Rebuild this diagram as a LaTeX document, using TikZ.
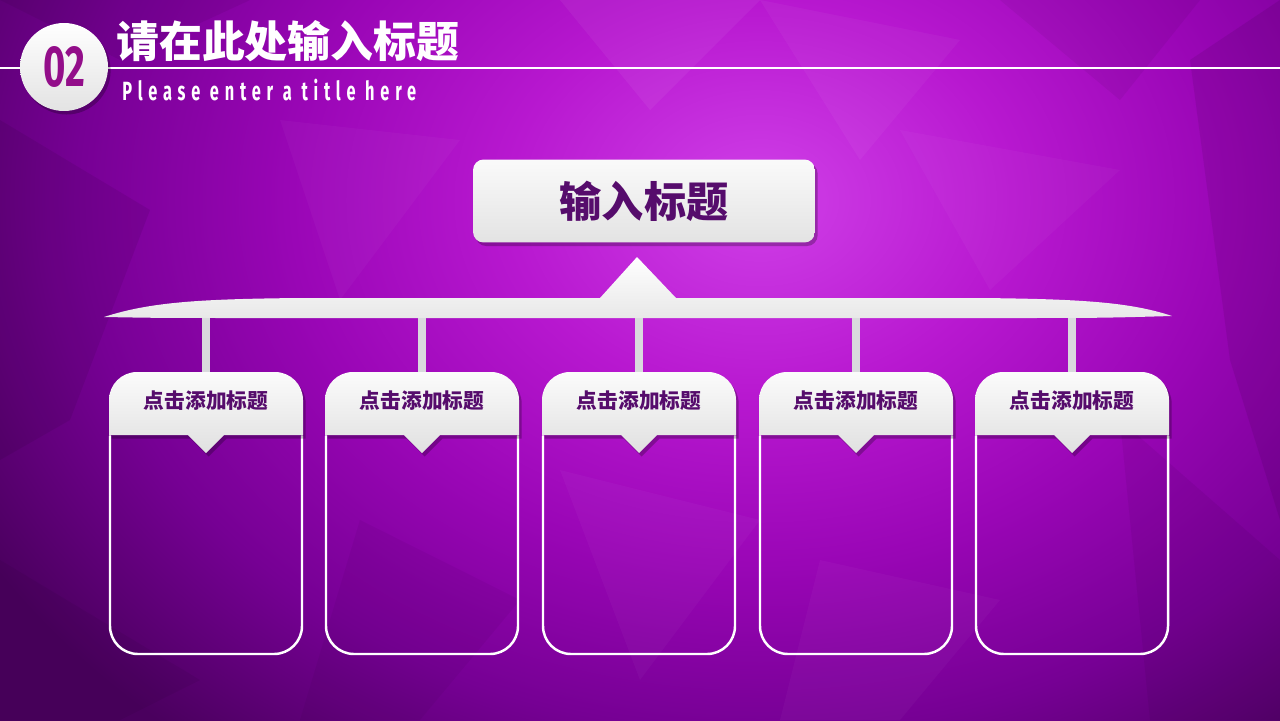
\documentclass[tikz,border=0pt]{standalone}
\usepackage{fontspec}
\usepackage{tikz}
\usetikzlibrary{positioning, shadows}

\newfontfamily\cjk{Noto Sans CJK SC}
\newfontfamily\numfont[FakeStretch=0.66]{Fira Sans}
\newfontfamily\subfont[FakeStretch=0.62, LetterSpace=22]{Fira Sans}

\definecolor{bgA}{HTML}{D040E8}
\definecolor{bgB}{HTML}{B818D0}
\definecolor{bgC}{HTML}{9A06B6}
\definecolor{bgD}{HTML}{760094}
\definecolor{bgE}{HTML}{4A005E}
\definecolor{ink}{HTML}{560C6C}
\definecolor{numink}{HTML}{930E8A}
\definecolor{stemgray}{HTML}{D9D9DD}

\pgfdeclareradialshading{bgglow}{\pgfpoint{0bp}{0bp}}{color(0bp)=(bgA); color(7bp)=(bgB); color(13bp)=(bgC); color(19bp)=(bgD); color(25bp)=(bgE); color(50bp)=(bgE)}

\tikzset{
	softshadow/.style	={drop shadow={shadow xshift=1.5pt, shadow yshift=-2pt, opacity=0.25, fill=black}},
	badge/.style		={circle, minimum size=1.76cm, inner sep=0pt, top color=white, bottom color=gray!22, softshadow, text=numink, font=\numfont\bfseries\fontsize{33}{33}\selectfont},
	headbox/.style		={rectangle, rounded corners=6pt, minimum width=6.84cm, minimum height=1.66cm, top color=white!96!gray, bottom color=gray!22, softshadow, text=ink, font=\cjk\bfseries\fontsize{24}{24}\selectfont},
	cardtitle/.style	={inner sep=0pt, text=ink, font=\cjk\bfseries\fontsize{11.8}{12}\selectfont},
	stem/.style			={stemgray, line width=4.5pt},
	outline/.style		={white, line width=1.4pt, line cap=round},
}

\begin{document}
\begin{tikzpicture}[x=0.02cm, y=-0.02cm]
	\useasboundingbox (0,0) rectangle (1280,720);
	\begin{scope}
		\clip (0,0) rectangle (1280,720);
		\shade[shading=bgglow] (-140,-500) rectangle (1660,900);
		\fill[white, opacity=0.05]	(560,0) -- (760,0) -- (650,110) -- cycle;
		\fill[white, opacity=0.04]	(760,0) -- (960,40) -- (860,160) -- cycle;
		\fill[white, opacity=0.03]	(280,120) -- (460,140) -- (340,300) -- cycle;
		\fill[white, opacity=0.03]	(900,130) -- (1120,170) -- (990,290) -- cycle;
		\fill[white, opacity=0.03]	(560,470) -- (760,520) -- (640,680) -- cycle;
		\fill[black, opacity=0.07]	(0,120) -- (150,210) -- (70,420) -- (0,460) -- cycle;
		\fill[black, opacity=0.08]	(1190,60) -- (1280,0) -- (1280,520) -- (1230,360) -- cycle;
		\fill[black, opacity=0.05]	(1120,420) -- (1280,560) -- (1280,720) -- (1150,720) -- cycle;
		\fill[black, opacity=0.05]	(0,560) -- (200,680) -- (120,720) -- (0,720) -- cycle;
		\fill[black, opacity=0.04]	(360,520) -- (520,600) -- (420,720) -- (300,720) -- cycle;
		\fill[black, opacity=0.05]	(1000,0) -- (1200,0) -- (1120,100) -- cycle;
		\fill[black, opacity=0.06]	(0,0) -- (250,0) -- (120,60) -- cycle;
		\fill[white, opacity=0.03]	(820,560) -- (1000,600) -- (900,720) -- (780,720) -- cycle;
	\end{scope}

	\coordinate (lineL) at (0,68);
	\coordinate (lineR) at (1280,68);
	\draw[white, line width=1.2pt] (lineL) -- (lineR);

	\node[badge] 								(num)	at (64,67)	{02};
	\node[anchor=west, inner sep=0pt, text=white, font=\cjk\bfseries\fontsize{24.4}{25}\selectfont]
												(title)	at (116,41)	{请在此处输入标题};
	\node[anchor=west, inner sep=0pt, text=white, font=\subfont\bfseries\fontsize{15}{15}\selectfont]
												(sub)	at (122,90)	{Please enter a title here};

	\node[headbox] 								(head)	at (644,201)	{输入标题};

	\shade[top color=white, bottom color=gray!18]
		(104,317) .. controls (150,302) and (200,299) .. (300,298) -- (600,298) -- (637,257) -- (676,298)
		-- (980,298) .. controls (1080,299) and (1130,302) .. (1172,316)
		.. controls (1100,318) .. (1000,318) -- (260,318) .. controls (160,318) .. (104,317) -- cycle;

	\foreach \i/\cx in {1/206, 2/422, 3/639, 4/856, 5/1072} {
		\coordinate (bar\i) at (\cx,318);
		\coordinate (top\i) at (\cx,373);
		\draw[stem] (bar\i) -- (top\i);
		\draw[outline] (\cx-96,436) -- (\cx-96,626) arc[start angle=180, end angle=90, radius=28]
			-- (\cx+68,654) arc[start angle=90, end angle=0, radius=28] -- (\cx+96,436);
		\shade[top color=white!97!gray, bottom color=gray!24, softshadow]
			(\cx-97,435) -- (\cx-97,400) arc[start angle=180, end angle=270, radius=28]
			-- (\cx+69,372) arc[start angle=270, end angle=360, radius=28]
			-- (\cx+97,435) -- (\cx+18,435) -- (\cx,453) -- (\cx-18,435) -- cycle;
		\node[cardtitle] (card\i) at (\cx,401) {点击添加标题};
	}
\end{tikzpicture}
\end{document}
